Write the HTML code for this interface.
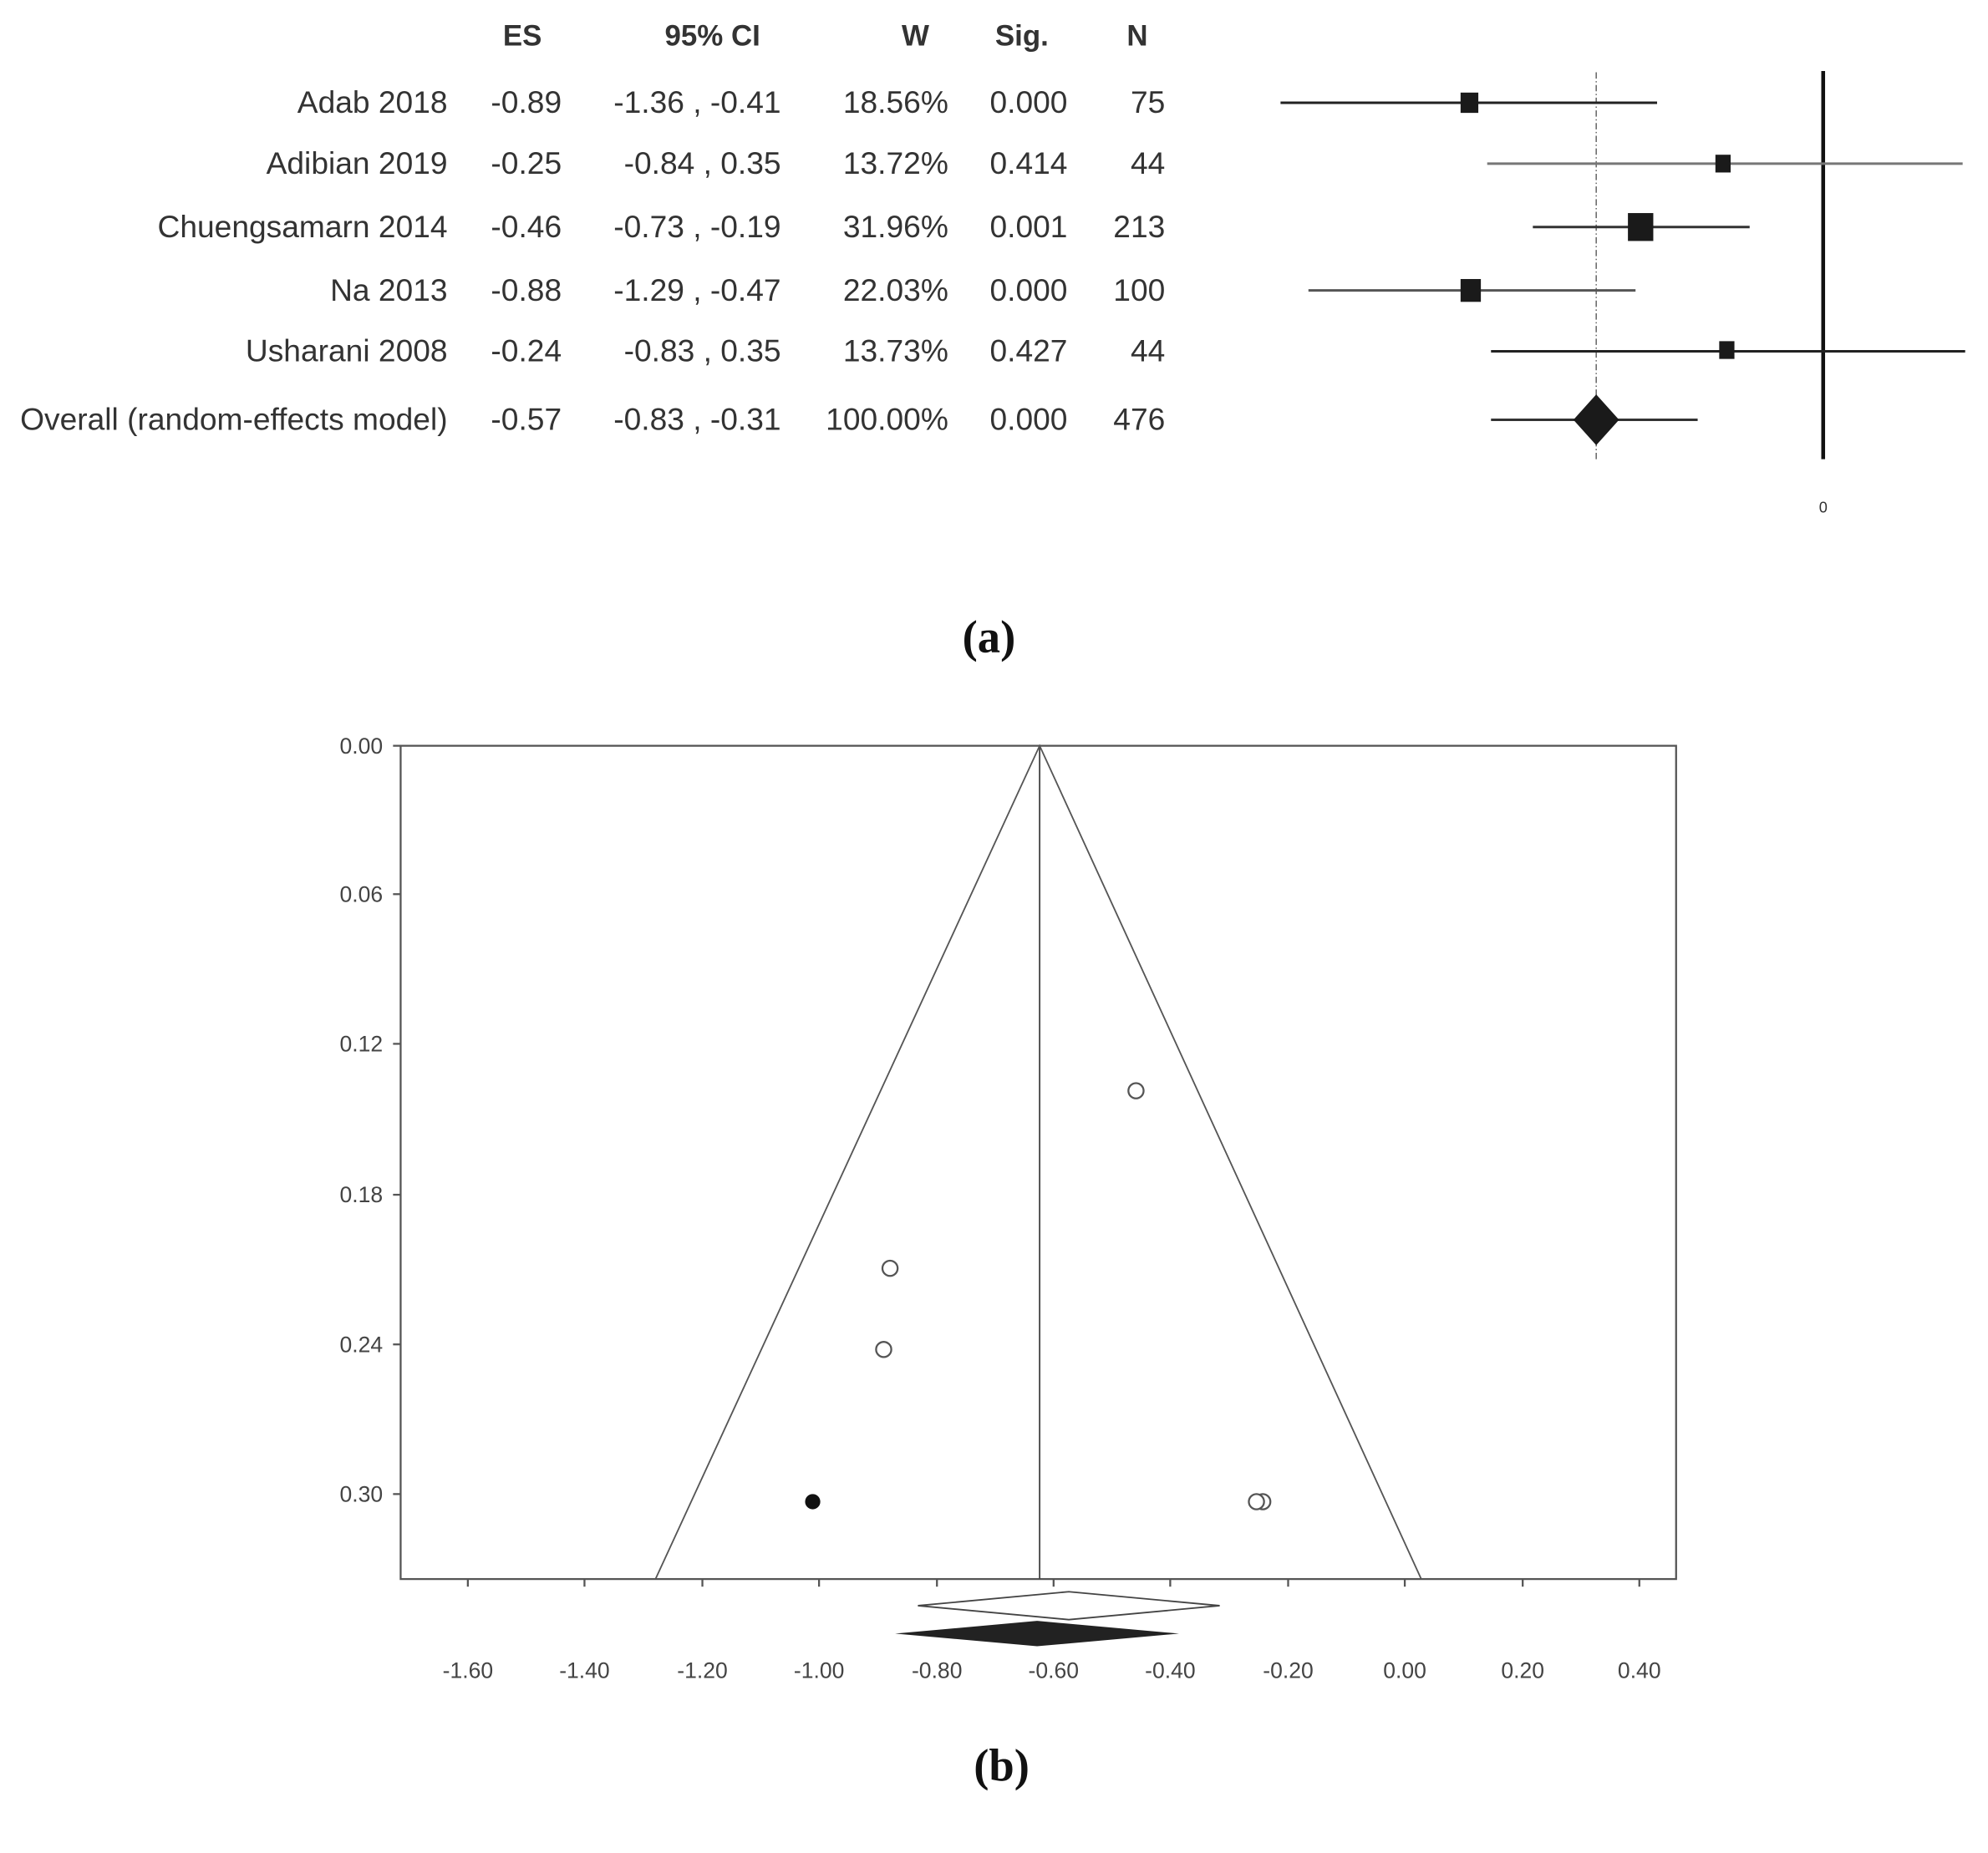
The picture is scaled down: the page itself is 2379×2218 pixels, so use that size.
<!DOCTYPE html>
<html><head><meta charset="utf-8"><style>html,body{margin:0;padding:0;background:#fff}svg{display:block}</style></head>
<body>
<svg width="2379" height="2218" viewBox="0 0 1568 1461" preserveAspectRatio="none" xmlns="http://www.w3.org/2000/svg">
<rect width="1568" height="1461" fill="#fff"/>
<g font-family="Liberation Sans, sans-serif" fill="#333">
<g font-size="23" font-weight="bold" text-anchor="middle">
<text x="412" y="36">ES</text><text x="562" y="36">95% CI</text><text x="722" y="36">W</text><text x="806" y="36">Sig.</text><text x="897" y="36">N</text>
</g>
<g font-size="24.5">
<g text-anchor="end">
<text x="353" y="89">Adab  2018</text><text x="353" y="137">Adibian 2019</text><text x="353" y="187">Chuengsamarn 2014</text><text x="353" y="237">Na 2013</text><text x="353" y="285">Usharani 2008</text><text x="353" y="339">Overall (random-effects model)</text>
<text x="443" y="89">-0.89</text><text x="443" y="137">-0.25</text><text x="443" y="187">-0.46</text><text x="443" y="237">-0.88</text><text x="443" y="285">-0.24</text><text x="443" y="339">-0.57</text>
<text x="616" y="89">-1.36 , -0.41</text><text x="616" y="137">-0.84 , 0.35</text><text x="616" y="187">-0.73 , -0.19</text><text x="616" y="237">-1.29 , -0.47</text><text x="616" y="285">-0.83 , 0.35</text><text x="616" y="339">-0.83 , -0.31</text>
<text x="748" y="89">18.56%</text><text x="748" y="137">13.72%</text><text x="748" y="187">31.96%</text><text x="748" y="237">22.03%</text><text x="748" y="285">13.73%</text><text x="748" y="339">100.00%</text>
<text x="842" y="89">0.000</text><text x="842" y="137">0.414</text><text x="842" y="187">0.001</text><text x="842" y="237">0.000</text><text x="842" y="285">0.427</text><text x="842" y="339">0.000</text>
<text x="919" y="89">75</text><text x="919" y="137">44</text><text x="919" y="187">213</text><text x="919" y="237">100</text><text x="919" y="285">44</text><text x="919" y="339">476</text>
</g></g>
<text x="1438" y="404" font-size="12" text-anchor="middle">0</text>
</g>
<line x1="1259" y1="57" x2="1259" y2="362" stroke="#666" stroke-width="1" stroke-dasharray="5,2,1,2"/>
<line x1="1438" y1="56" x2="1438" y2="362" stroke="#111" stroke-width="3"/>
<g stroke-width="2">
<line x1="1010" y1="81" x2="1307" y2="81" stroke="#222"/>
<line x1="1173" y1="129" x2="1548" y2="129" stroke="#777"/>
<line x1="1209" y1="179" x2="1380" y2="179" stroke="#333"/>
<line x1="1032" y1="229" x2="1290" y2="229" stroke="#555"/>
<line x1="1176" y1="277" x2="1550" y2="277" stroke="#222"/>
<line x1="1176" y1="331" x2="1339" y2="331" stroke="#333"/>
</g>
<g fill="#1a1a1a">
<rect x="1152" y="73" width="14" height="16"/>
<rect x="1353" y="122" width="12" height="14"/>
<rect x="1284" y="168" width="20" height="22"/>
<rect x="1152" y="220" width="16" height="18"/>
<rect x="1356" y="269" width="12" height="14"/>
<polygon points="1259,311 1277,331 1259,351 1241,331"/>
</g>
<text x="780" y="514" font-family="Liberation Serif, serif" font-size="36" font-weight="bold" text-anchor="middle" fill="#111">(a)</text>
<rect x="316" y="588" width="1006" height="657" fill="none" stroke="#555" stroke-width="1.5"/>
<line x1="820" y1="588" x2="820" y2="1245" stroke="#444" stroke-width="1.2"/>
<polyline points="517,1245 820,588 1121,1245" fill="none" stroke="#555" stroke-width="1.2"/>
<g stroke="#555" stroke-width="1.5">
<line x1="310" y1="588" x2="316" y2="588"/><line x1="310" y1="705" x2="316" y2="705"/><line x1="310" y1="823" x2="316" y2="823"/><line x1="310" y1="942" x2="316" y2="942"/><line x1="310" y1="1060" x2="316" y2="1060"/><line x1="310" y1="1178" x2="316" y2="1178"/>
<line x1="369" y1="1245" x2="369" y2="1251"/><line x1="461" y1="1245" x2="461" y2="1251"/><line x1="554" y1="1245" x2="554" y2="1251"/><line x1="646" y1="1245" x2="646" y2="1251"/><line x1="739" y1="1245" x2="739" y2="1251"/><line x1="831" y1="1245" x2="831" y2="1251"/><line x1="923" y1="1245" x2="923" y2="1251"/><line x1="1016" y1="1245" x2="1016" y2="1251"/><line x1="1108" y1="1245" x2="1108" y2="1251"/><line x1="1201" y1="1245" x2="1201" y2="1251"/><line x1="1293" y1="1245" x2="1293" y2="1251"/>
</g>
<g font-family="Liberation Sans, sans-serif" font-size="17.5" fill="#444">
<g text-anchor="end">
<text x="302" y="594">0.00</text><text x="302" y="711">0.06</text><text x="302" y="829">0.12</text><text x="302" y="948">0.18</text><text x="302" y="1066">0.24</text><text x="302" y="1184">0.30</text>
</g>
<g text-anchor="middle">
<text x="369" y="1323">-1.60</text><text x="461" y="1323">-1.40</text><text x="554" y="1323">-1.20</text><text x="646" y="1323">-1.00</text><text x="739" y="1323">-0.80</text><text x="831" y="1323">-0.60</text><text x="923" y="1323">-0.40</text><text x="1016" y="1323">-0.20</text><text x="1108" y="1323">0.00</text><text x="1201" y="1323">0.20</text><text x="1293" y="1323">0.40</text>
</g></g>
<g fill="#fff" stroke="#555" stroke-width="1.5">
<circle cx="896" cy="860" r="6"/><circle cx="702" cy="1000" r="6"/><circle cx="697" cy="1064" r="6"/><circle cx="996" cy="1184" r="6"/><circle cx="991" cy="1184" r="6"/>
</g>
<circle cx="641" cy="1184" r="6" fill="#111"/>
<polygon points="724,1266 843,1255 962,1266 843,1277" fill="#fff" stroke="#444" stroke-width="1.2"/>
<polygon points="706,1288 818,1278 930,1288 818,1298" fill="#222"/>
<text x="790" y="1404" font-family="Liberation Serif, serif" font-size="36" font-weight="bold" text-anchor="middle" fill="#111">(b)</text>
</svg>
</body></html>
